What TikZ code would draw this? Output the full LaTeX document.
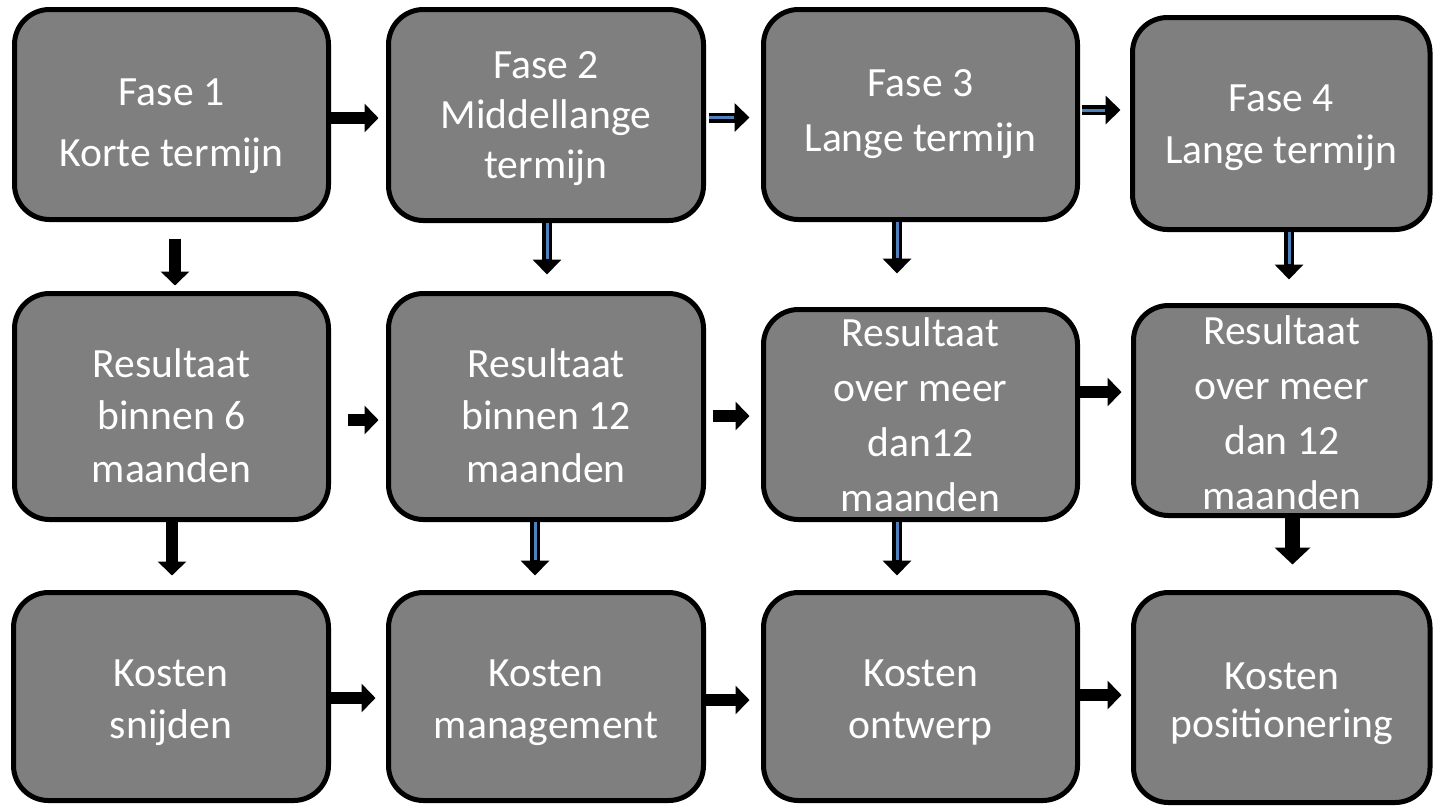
\documentclass[tikz,border=0pt]{standalone}
\usepackage{fontspec}
\setmainfont{Carlito}
\usetikzlibrary{arrows.meta,calc}
\definecolor{boxgray}{RGB}{127,127,127}
\definecolor{lineblue}{RGB}{79,129,189}
\tikzset{
  box/.style={draw=black, line width=2.5pt, fill=boxgray, rounded corners=17.5pt, inner sep=0pt},
  txt/.style={text=white, align=center, inner sep=0pt},
  blk/.style={line width=6pt, -{Triangle[width=14pt,length=7pt]}},
  blkthick/.style={line width=7.5pt, -{Triangle[width=17.5pt,length=8.5pt]}},
  blu/.style={line width=5pt, -{Triangle[width=14pt,length=7.5pt]}},
  bluin/.style={line width=1.5pt, draw=lineblue, shorten >=8pt},
}
\newcommand\fs[1]{\fontsize{20.8pt}{#1}\selectfont}
\newcommand\blarrow[2]{\draw[blu] #1 -- #2; \draw[bluin] #1 -- #2;}
\begin{document}
\begin{tikzpicture}[x=0.5pt,y=-0.5pt]
\useasboundingbox (0,0) rectangle (1433,805);
% row 1
\node[box, minimum width=157pt, minimum height=105pt] (b1) at (171.5,114.5) {};
\node[box, minimum width=157.5pt, minimum height=105.5pt] (b2) at (546,115) {};
\node[box, minimum width=157pt, minimum height=105pt] (b3) at (920.5,114.5) {};
\node[box, minimum width=148.75pt, minimum height=106pt] (b4) at (1281.25,123.5) {};
% row 2
\node[box, minimum width=157pt, minimum height=113pt] (b5) at (171.5,406.5) {};
\node[box, minimum width=157.5pt, minimum height=113pt] (b6) at (546,406.5) {};
\node[box, minimum width=157pt, minimum height=105pt] (b7) at (920.5,414.5) {};
\node[box, minimum width=148.25pt, minimum height=105pt] (b8) at (1281.75,410.5) {};
% row 3
\node[box, minimum width=157.5pt, minimum height=104pt] (b9) at (171,696.5) {};
\node[box, minimum width=157.5pt, minimum height=104pt] (b10) at (546,696.5) {};
\node[box, minimum width=157pt, minimum height=104pt] (b11) at (920.5,696.5) {};
\node[box, minimum width=148.25pt, minimum height=105pt] (b12) at (1281.75,697.5) {};
% texts
\node[txt, font=\fs{30.5pt}] (t1) at ($(b1)+(0,12)$) {Fase 1\\Korte termijn};
\node[txt, font=\fs{25pt}] (t2) at ($(b2)+(0,4)$) {Fase 2\\Middellange\\termijn};
\node[txt, font=\fs{27.5pt}] (t3) at ($(b3)+(0,0)$) {Fase 3\\Lange termijn};
\node[txt, font=\fs{26pt}] (t4) at ($(b4)+(0,4)$) {Fase 4\\Lange termijn};
\node[txt, font=\fs{26.25pt}] (t5) at ($(b5)+(0,9)$) {Resultaat\\binnen 6\\maanden};
\node[txt, font=\fs{26.25pt}] (t6) at ($(b6)+(0,9)$) {Resultaat\\binnen 12\\maanden};
\node[txt, font=\fs{27.5pt}] (t7) at ($(b7)+(0,0.5)$) {Resultaat\\over meer\\dan12\\maanden};
\node[txt, font=\fs{27.5pt}] (t8) at ($(b8)+(0,2.5)$) {Resultaat\\over meer\\dan 12\\maanden};
\node[txt, font=\fs{26pt}] (t9) at ($(b9)+(0,6)$) {Kosten\\snijden};
\node[txt, font=\fs{26pt}] (t10) at ($(b10)+(0,6)$) {Kosten\\management};
\node[txt, font=\fs{26pt}] (t11) at ($(b11)+(0,6)$) {Kosten\\ontwerp};
\node[txt, font=\fs{24pt}] (t12) at ($(b12)+(0,6)$) {Kosten\\positionering};
% horizontal arrows
\draw[blk] ($(b1.east)+(0,3.5)$) -- ($(b2.west)+(-7.5,3)$);
\blarrow{($(b2.east)+(2.5,2.5)$)}{($(b3.west)+(-11.5,3)$)}
\blarrow{($(b3.east)+(2,-4.5)$)}{($(b4.west)+(-9.5,-13.5)$)}
\draw[blk] ($(b5.east)+(16.5,13.5)$) -- ($(b6.west)+(-7.5,13.5)$);
\draw[blk] ($(b6.east)+(6.5,9.5)$) -- ($(b7.west)+(-11.5,1.5)$);
\draw[blk] ($(b7.east)+(0,-22.5)$) -- ($(b8.west)+(-9.5,-18.5)$);
\draw[blk] ($(b9.east)+(0,1.5)$) -- ($(b10.west)+(-10.5,1.5)$);
\draw[blk] ($(b10.east)+(0,3.5)$) -- ($(b11.west)+(-11.5,3.5)$);
\draw[blk] ($(b11.east)+(0,-1.5)$) -- ($(b12.west)+(-9.5,-2.5)$);
% vertical arrows
\draw[blk] ($(b1.south)+(3.5,16.5)$) -- ($(b5.north)+(3.5,-5.5)$);
\draw[blk] ($(b5.south)+(0.5,0)$) -- ($(b9.north)+(1,-14.5)$);
\blarrow{($(b2.south)+(1,0)$)}{($(b6.north)+(1,-16.5)$)}
\blarrow{($(b6.south)+(-11,0)$)}{($(b10.north)+(-11,-14.5)$)}
\blarrow{($(b3.south)+(-23.5,0)$)}{($(b7.north)+(-23.5,-33.5)$)}
\blarrow{($(b7.south)+(-23.5,0)$)}{($(b11.north)+(-23.5,-14.5)$)}
\blarrow{($(b4.south)+(7.75,0)$)}{($(b8.north)+(7.25,-23.5)$)}
\draw[blkthick] ($(b8.south)+(10.75,0)$) -- ($(b12.north)+(10.75,-25.5)$);
\end{tikzpicture}
\end{document}
